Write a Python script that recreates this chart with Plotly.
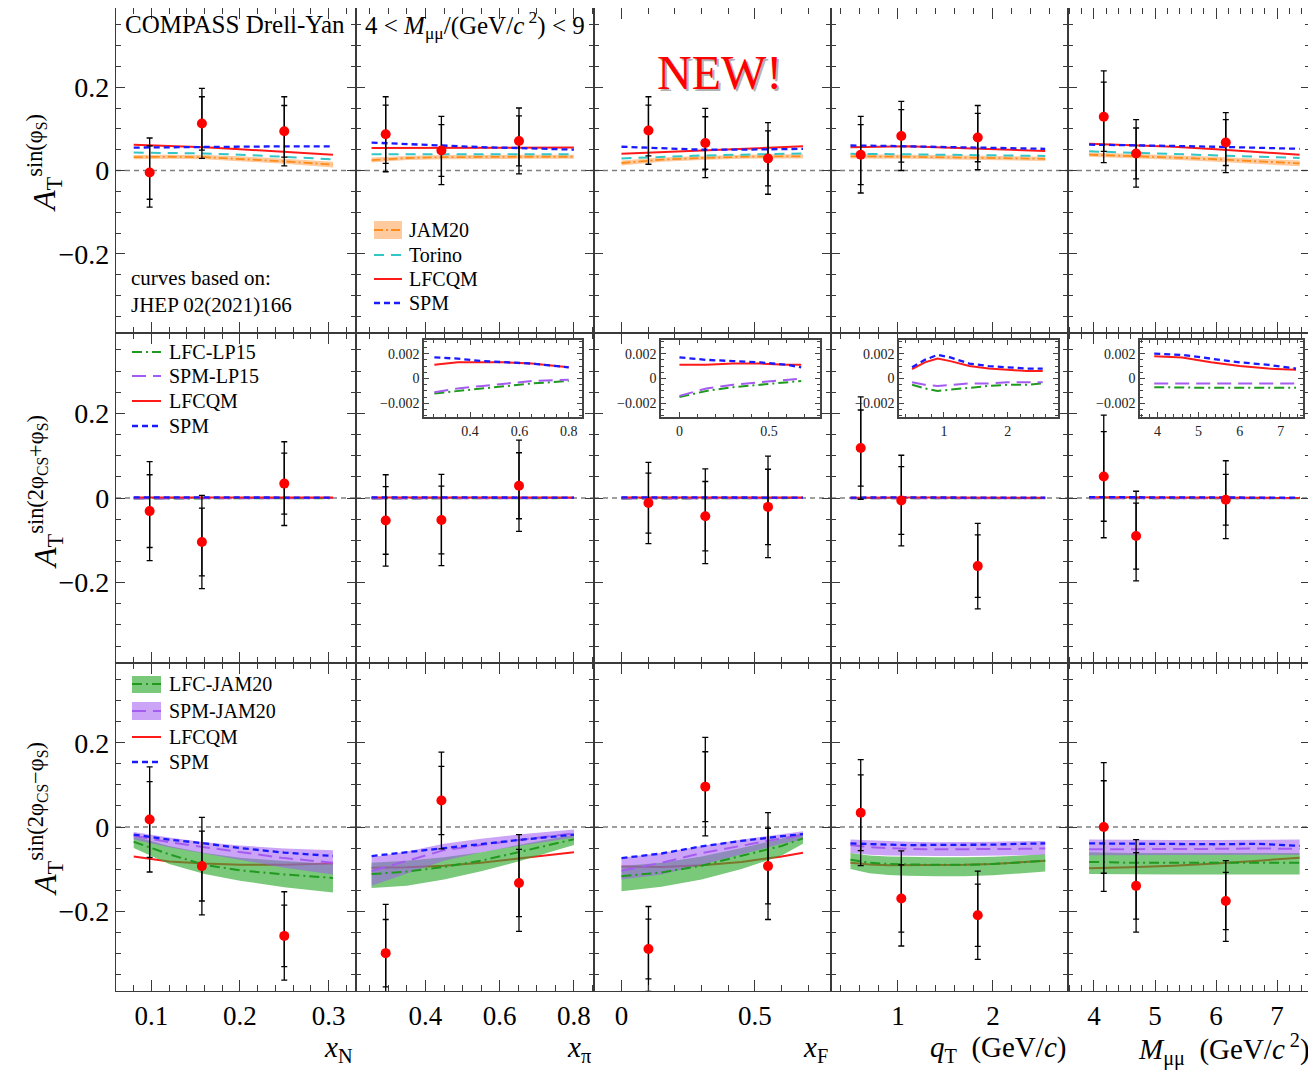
import plotly.graph_objects as go

# ---------------- theory-curve x grids (per column variable) ----------------
XN_GRID = [0.08, 0.12, 0.16, 0.20, 0.25, 0.305]
XPI_GRID = [0.255, 0.35, 0.45, 0.55, 0.65, 0.80]
XF_GRID = [0.0, 0.15, 0.30, 0.45, 0.60, 0.68]
QT_GRID = [0.5, 0.7, 0.9, 1.1, 1.4, 1.7, 2.0, 2.3, 2.55]
M_GRID = [3.92, 4.6, 5.3, 6.0, 6.7, 7.37]

# ---------------- measured point positions ----------------
XN_PTS = [0.098, 0.157, 0.250]
XPI_PTS = [0.293, 0.443, 0.652]
XF_PTS = [0.101, 0.314, 0.549]
QT_PTS = [0.608, 1.035, 1.84]
M_PTS = [4.16, 4.69, 6.16]

# ---------------- row 1 : A_T^{sin(phi_S)} ----------------
SIV_VAL = {"xN": [-0.005, 0.113, 0.094], "xpi": [0.087, 0.048, 0.071], "xF": [0.096, 0.066, 0.029],
           "qT": [0.038, 0.083, 0.079], "M": [0.129, 0.041, 0.067]}
SIV_STAT = {"xN": [0.064, 0.064, 0.062], "xpi": [0.070, 0.062, 0.060], "xF": [0.061, 0.063, 0.066],
            "qT": [0.072, 0.063, 0.058], "M": [0.083, 0.061, 0.055]}
SIV_TOT = {"xN": [0.083, 0.084, 0.083], "xpi": [0.090, 0.082, 0.079], "xF": [0.081, 0.083, 0.086],
           "qT": [0.092, 0.083, 0.077], "M": [0.110, 0.081, 0.072]}
SIV_LFCQM = {"xN": [0.062, 0.059, 0.056, 0.051, 0.045, 0.038],
             "xpi": [0.054, 0.054, 0.054, 0.055, 0.055, 0.055],
             "xF": [0.040, 0.044, 0.048, 0.052, 0.056, 0.058],
             "qT": [0.056, 0.057, 0.058, 0.058, 0.056, 0.054, 0.051, 0.049, 0.047],
             "M": [0.064, 0.061, 0.057, 0.051, 0.045, 0.038]}
SIV_SPM = {"xN": [0.055, 0.056, 0.057, 0.058, 0.058, 0.058],
           "xpi": [0.067, 0.063, 0.059, 0.056, 0.054, 0.050],
           "xF": [0.057, 0.053, 0.050, 0.050, 0.051, 0.052],
           "qT": [0.060, 0.060, 0.059, 0.058, 0.057, 0.056, 0.054, 0.053, 0.052],
           "M": [0.062, 0.061, 0.059, 0.057, 0.055, 0.052]}
SIV_TORINO = {"xN": [0.043, 0.042, 0.041, 0.038, 0.033, 0.027],
              "xpi": [0.039, 0.039, 0.039, 0.039, 0.039, 0.039],
              "xF": [0.029, 0.033, 0.036, 0.038, 0.040, 0.041],
              "qT": [0.040, 0.040, 0.040, 0.039, 0.038, 0.037, 0.036, 0.035, 0.035],
              "M": [0.046, 0.043, 0.040, 0.037, 0.034, 0.030]}
SIV_JAM20 = {"xN": [0.032, 0.033, 0.032, 0.028, 0.022, 0.014],
             "xpi": [0.025, 0.030, 0.032, 0.033, 0.033, 0.033],
             "xF": [0.018, 0.026, 0.030, 0.033, 0.034, 0.034],
             "qT": [0.034, 0.034, 0.034, 0.033, 0.032, 0.031, 0.030, 0.029, 0.028],
             "M": [0.038, 0.035, 0.031, 0.027, 0.022, 0.017]}
SIV_JAM20_ERR = {"xN": [0.005, 0.005, 0.005, 0.006, 0.006, 0.007],
                 "xpi": [0.006, 0.005, 0.005, 0.005, 0.005, 0.005],
                 "xF": [0.006, 0.005, 0.005, 0.005, 0.005, 0.005],
                 "qT": [0.005, 0.005, 0.005, 0.005, 0.005, 0.005, 0.005, 0.005, 0.005],
                 "M": [0.005, 0.005, 0.005, 0.006, 0.006, 0.007]}

# ---------------- row 2 : A_T^{sin(2phi_CS+phi_S)} ----------------
PRETZ_VAL = {"xN": [-0.031, -0.104, 0.034], "xpi": [-0.053, -0.052, 0.029], "xF": [-0.012, -0.043, -0.021],
             "qT": [0.118, -0.006, -0.161], "M": [0.051, -0.090, -0.004]}
PRETZ_STAT = {"xN": [0.086, 0.080, 0.072], "xpi": [0.080, 0.080, 0.078], "xF": [0.071, 0.082, 0.089],
              "qT": [0.090, 0.080, 0.074], "M": [0.106, 0.078, 0.060]}
PRETZ_TOT = {"xN": [0.117, 0.110, 0.099], "xpi": [0.108, 0.108, 0.108], "xF": [0.096, 0.112, 0.120],
             "qT": [0.121, 0.107, 0.101], "M": [0.145, 0.106, 0.092]}
PRETZ_LFCQM = {"xN": [0.0011, 0.0012, 0.0012, 0.0012, 0.0011, 0.0010],
               "xpi": [0.0011, 0.0013, 0.0013, 0.0013, 0.0012, 0.0009],
               "xF": [0.0011, 0.0011, 0.0012, 0.0012, 0.0011, 0.0011],
               "qT": [0.00075, 0.0013, 0.0016, 0.0014, 0.0010, 0.0008, 0.0007, 0.0006, 0.0006],
               "M": [0.0018, 0.0017, 0.0013, 0.0010, 0.0008, 0.0007]}
PRETZ_SPM = {"xN": [0.0017, 0.0016, 0.0015, 0.0013, 0.0011, 0.0009],
             "xpi": [0.0017, 0.0016, 0.0014, 0.0013, 0.0012, 0.0009],
             "xF": [0.0017, 0.0015, 0.0014, 0.0013, 0.0011, 0.0009],
             "qT": [0.0009, 0.0015, 0.0019, 0.0017, 0.0012, 0.0010, 0.0009, 0.0008, 0.0008],
             "M": [0.0020, 0.0019, 0.0016, 0.0013, 0.0011, 0.0008]}
PRETZ_SPM_LP15 = {"xN": [-0.0011, -0.0009, -0.0007, -0.0005, -0.0003, -0.0002],
                  "xpi": [-0.0011, -0.0008, -0.0006, -0.0004, -0.0002, -0.0001],
                  "xF": [-0.0014, -0.0008, -0.0005, -0.0003, -0.0001, 0.0],
                  "qT": [-0.0003, -0.0005, -0.0006, -0.0005, -0.0004, -0.0004, -0.0003, -0.0003, -0.0003],
                  "M": [-0.0004, -0.0004, -0.0004, -0.0004, -0.0004, -0.0004]}
PRETZ_LFC_LP15 = {"xN": [-0.0012, -0.0010, -0.0008, -0.0006, -0.0004, -0.0003],
                  "xpi": [-0.0012, -0.0010, -0.0008, -0.0006, -0.0004, -0.0002],
                  "xF": [-0.0015, -0.0010, -0.0007, -0.0005, -0.0003, -0.0002],
                  "qT": [-0.0005, -0.0008, -0.0010, -0.0009, -0.0007, -0.0006, -0.0005, -0.0005, -0.0004],
                  "M": [-0.0007, -0.00075, -0.00075, -0.00075, -0.00075, -0.00075]}

# ---------------- row 3 : A_T^{sin(2phi_CS-phi_S)} ----------------
TRANS_VAL = {"xN": [0.018, -0.093, -0.259], "xpi": [-0.300, 0.063, -0.133], "xF": [-0.290, 0.096, -0.093],
             "qT": [0.034, -0.170, -0.210], "M": [0.000, -0.140, -0.176]}
TRANS_STAT = {"xN": [0.090, 0.083, 0.073], "xpi": [0.080, 0.081, 0.080], "xF": [0.071, 0.083, 0.090],
              "qT": [0.090, 0.080, 0.074], "M": [0.110, 0.079, 0.068]}
TRANS_TOT = {"xN": [0.125, 0.116, 0.105], "xpi": [0.116, 0.115, 0.115], "xF": [0.101, 0.117, 0.127],
             "qT": [0.126, 0.113, 0.105], "M": [0.153, 0.110, 0.096]}
TRANS_LFC_JAM20 = {"xN": [-0.035, -0.065, -0.090, -0.103, -0.113, -0.121],
                   "xpi": [-0.112, -0.106, -0.095, -0.080, -0.060, -0.029],
                   "xF": [-0.117, -0.108, -0.092, -0.068, -0.045, -0.027],
                   "qT": [-0.078, -0.085, -0.088, -0.089, -0.090, -0.090, -0.088, -0.084, -0.080],
                   "M": [-0.083, -0.085, -0.085, -0.085, -0.085, -0.085]}
TRANS_LFC_JAM20_LO = {"xN": [-0.050, -0.088, -0.112, -0.128, -0.143, -0.156],
                      "xpi": [-0.145, -0.140, -0.125, -0.105, -0.082, -0.043],
                      "xF": [-0.153, -0.142, -0.125, -0.100, -0.068, -0.040],
                      "qT": [-0.100, -0.110, -0.114, -0.116, -0.117, -0.117, -0.115, -0.110, -0.106],
                      "M": [-0.112, -0.113, -0.113, -0.113, -0.113, -0.113]}
TRANS_LFC_JAM20_HI = {"xN": [-0.022, -0.045, -0.062, -0.073, -0.081, -0.088],
                      "xpi": [-0.085, -0.080, -0.072, -0.060, -0.043, -0.018],
                      "xF": [-0.093, -0.085, -0.070, -0.050, -0.028, -0.013],
                      "qT": [-0.062, -0.068, -0.070, -0.071, -0.072, -0.072, -0.071, -0.068, -0.065],
                      "M": [-0.060, -0.062, -0.062, -0.062, -0.062, -0.062]}
TRANS_SPM_JAM20 = {"xN": [-0.021, -0.036, -0.048, -0.060, -0.074, -0.085],
                   "xpi": [-0.105, -0.080, -0.055, -0.043, -0.031, -0.015],
                   "xF": [-0.104, -0.085, -0.062, -0.044, -0.027, -0.019],
                   "qT": [-0.043, -0.048, -0.050, -0.052, -0.053, -0.053, -0.053, -0.052, -0.051],
                   "M": [-0.053, -0.053, -0.052, -0.052, -0.051, -0.052]}
TRANS_SPM_JAM20_LO = {"xN": [-0.030, -0.048, -0.063, -0.078, -0.097, -0.113],
                      "xpi": [-0.140, -0.110, -0.080, -0.060, -0.045, -0.025],
                      "xF": [-0.125, -0.113, -0.090, -0.065, -0.040, -0.030],
                      "qT": [-0.062, -0.066, -0.068, -0.069, -0.069, -0.069, -0.068, -0.067, -0.066],
                      "M": [-0.067, -0.067, -0.066, -0.066, -0.066, -0.066]}
TRANS_SPM_JAM20_HI = {"xN": [-0.012, -0.025, -0.036, -0.044, -0.051, -0.055],
                      "xpi": [-0.072, -0.058, -0.040, -0.028, -0.018, -0.006],
                      "xF": [-0.073, -0.062, -0.045, -0.030, -0.017, -0.010],
                      "qT": [-0.030, -0.032, -0.034, -0.035, -0.036, -0.036, -0.035, -0.034, -0.033],
                      "M": [-0.030, -0.031, -0.031, -0.031, -0.030, -0.030]}
TRANS_LFCQM = {"xN": [-0.070, -0.082, -0.087, -0.090, -0.090, -0.087],
               "xpi": [-0.097, -0.096, -0.092, -0.085, -0.075, -0.060],
               "xF": [-0.094, -0.095, -0.091, -0.083, -0.070, -0.061],
               "qT": [-0.085, -0.089, -0.091, -0.091, -0.091, -0.090, -0.088, -0.083, -0.080],
               "M": [-0.098, -0.096, -0.092, -0.087, -0.080, -0.073]}
TRANS_SPM = {"xN": [-0.018, -0.030, -0.039, -0.050, -0.061, -0.069],
             "xpi": [-0.069, -0.060, -0.049, -0.040, -0.031, -0.018],
             "xF": [-0.074, -0.063, -0.046, -0.033, -0.022, -0.017],
             "qT": [-0.039, -0.041, -0.042, -0.043, -0.043, -0.043, -0.042, -0.040, -0.039],
             "M": [-0.039, -0.040, -0.040, -0.041, -0.040, -0.045]}

# ---------------- layout constants ----------------
COLS = ["xN", "xpi", "xF", "qT", "M"]
GRID = {"xN": XN_GRID, "xpi": XPI_GRID, "xF": XF_GRID, "qT": QT_GRID, "M": M_GRID}
PTS = {"xN": XN_PTS, "xpi": XPI_PTS, "xF": XF_PTS, "qT": QT_PTS, "M": M_PTS}
X_RANGE = {"xN": [0.06, 0.331], "xpi": [0.213, 0.854], "xF": [-0.103, 0.785],
           "qT": [0.295, 2.79], "M": [3.574, 7.54]}
X_DTICK = {"xN": 0.1, "xpi": 0.2, "xF": 0.5, "qT": 1, "M": 1}
X_MINOR = {"xN": 0.02, "xpi": 0.05, "xF": 0.1, "qT": 0.2, "M": 0.2}

OFF = 8  # default page body margin
W, H = 1308, 1066
ML, MR, MT, MB = 108, 6, 0, 83
PW, PH = W - ML - MR, H - MT - MB
COL_PX = [116, 356, 594, 831, 1068, 1310]
ROW_PX = [8, 333, 663, 991]
INSET_X_PX = {1: (424, 582), 2: (661, 820), 3: (899, 1058), 4: (1140, 1303)}
INSET_Y_PX = (340, 417)
SERIF = "Liberation Serif"
FRAME = "#3a3a3a"


def px2x(p):
    return (p - OFF - ML) / PW


def px2y(p):
    return 1 - (p - OFF - MT) / PH


def fx(p):
    return min(1.0, max(0.0, px2x(p)))


def fy(p):
    return min(1.0, max(0.0, px2y(p)))


def aid(k):
    return "" if k == 1 else str(k)


ST = {
    "LFCQM": dict(color="#ff1a1a", dash="solid", width=2),
    "SPM": dict(color="#1a1aff", dash="6px,4px", width=2.3),
    "Torino": dict(color="#33c6c6", dash="10px,7px", width=2),
    "JAM20": dict(color="#ff8c1a", dash="9px,3px,2px,3px", width=1.8),
    "LFC": dict(color="#1f9a1f", dash="10px,4px,2px,4px", width=2),
    "SPMLP": dict(color="#a45cf0", dash="14px,7px", width=2),
}
ORANGE_BAND = "rgba(255,150,60,0.5)"
GREEN_BAND = "rgba(50,170,50,0.65)"
PURPLE_BAND = "rgba(160,90,240,0.55)"

fig = go.Figure()
lay = {}


def line(k, xs, ys, style):
    fig.add_trace(go.Scatter(x=xs, y=ys, mode="lines", line=style, showlegend=False,
                             hoverinfo="skip", xaxis="x" + aid(k), yaxis="y" + aid(k)))


def band(k, xs, lo, hi, color):
    fig.add_trace(go.Scatter(x=xs, y=hi, mode="lines", line=dict(width=0, color=color),
                             showlegend=False, hoverinfo="skip", xaxis="x" + aid(k), yaxis="y" + aid(k)))
    fig.add_trace(go.Scatter(x=xs, y=lo, mode="lines", line=dict(width=0, color=color), fill="tonexty",
                             fillcolor=color, showlegend=False, hoverinfo="skip",
                             xaxis="x" + aid(k), yaxis="y" + aid(k)))


def points(k, xs, ys, stat, tot):
    fig.add_trace(go.Scatter(x=xs, y=ys, mode="markers", marker=dict(size=1, color="rgba(0,0,0,0)"),
                             error_y=dict(type="data", array=tot, color="black", thickness=1.3, width=3),
                             showlegend=False, xaxis="x" + aid(k), yaxis="y" + aid(k)))
    fig.add_trace(go.Scatter(x=xs, y=ys, mode="markers", marker=dict(size=10, color="#ff0000"),
                             error_y=dict(type="data", array=stat, color="black", thickness=1.3, width=3),
                             showlegend=False, xaxis="x" + aid(k), yaxis="y" + aid(k)))


shapes = []
for r in range(3):
    for c in range(5):
        k = r * 5 + c + 1
        key = COLS[c]
        lay["xaxis" + aid(k)] = dict(
            domain=[fx(COL_PX[c]), fx(COL_PX[c + 1])], anchor="y" + aid(k), range=X_RANGE[key],
            tick0=0, dtick=X_DTICK[key], ticks="inside", ticklen=11, tickwidth=1.1, tickcolor=FRAME,
            minor=dict(tick0=0, dtick=X_MINOR[key], ticks="inside", ticklen=6, tickwidth=1, tickcolor=FRAME),
            showline=True, linecolor=FRAME, linewidth=1.2, mirror="ticks", showgrid=False, zeroline=False,
            showticklabels=(r == 2), tickfont=dict(family=SERIF, size=27, color="black"))
        lay["yaxis" + aid(k)] = dict(
            domain=[fy(ROW_PX[r + 1]), fy(ROW_PX[r])], anchor="x" + aid(k), range=[-0.39, 0.39],
            tick0=0, dtick=0.2, ticks="inside", ticklen=9, tickwidth=1.1, tickcolor=FRAME,
            minor=dict(tick0=0, dtick=0.05, ticks="inside", ticklen=5, tickwidth=1, tickcolor=FRAME),
            showline=True, linecolor=FRAME, linewidth=1.2, mirror="ticks", showgrid=False, zeroline=False,
            showticklabels=(c == 0), tickfont=dict(family=SERIF, size=28, color="black"))
        shapes.append(dict(type="line", xref="x" + aid(k) + " domain", yref="y" + aid(k), x0=0, x1=1,
                           y0=0, y1=0, layer="below", line=dict(color="#808080", width=1.5, dash="5px,4px")))
        g = GRID[key]
        if r == 0:
            lo = [v - e for v, e in zip(SIV_JAM20[key], SIV_JAM20_ERR[key])]
            hi = [v + e for v, e in zip(SIV_JAM20[key], SIV_JAM20_ERR[key])]
            band(k, g, lo, hi, ORANGE_BAND)
            line(k, g, SIV_JAM20[key], ST["JAM20"])
            line(k, g, SIV_TORINO[key], ST["Torino"])
            line(k, g, SIV_LFCQM[key], ST["LFCQM"])
            line(k, g, SIV_SPM[key], ST["SPM"])
            points(k, PTS[key], SIV_VAL[key], SIV_STAT[key], SIV_TOT[key])
        elif r == 1:
            line(k, g, PRETZ_LFC_LP15[key], ST["LFC"])
            line(k, g, PRETZ_SPM_LP15[key], ST["SPMLP"])
            line(k, g, PRETZ_LFCQM[key], ST["LFCQM"])
            line(k, g, PRETZ_SPM[key], ST["SPM"])
            points(k, PTS[key], PRETZ_VAL[key], PRETZ_STAT[key], PRETZ_TOT[key])
        else:
            line(k, g, TRANS_LFCQM[key], ST["LFCQM"])
            band(k, g, TRANS_LFC_JAM20_LO[key], TRANS_LFC_JAM20_HI[key], GREEN_BAND)
            band(k, g, TRANS_SPM_JAM20_LO[key], TRANS_SPM_JAM20_HI[key], PURPLE_BAND)
            line(k, g, TRANS_LFC_JAM20[key], ST["LFC"])
            line(k, g, TRANS_SPM_JAM20[key], ST["SPMLP"])
            line(k, g, TRANS_SPM[key], ST["SPM"])
            points(k, PTS[key], TRANS_VAL[key], TRANS_STAT[key], TRANS_TOT[key])

# ---------------- insets in row 2 (columns 2..5) ----------------
for i, c in enumerate([1, 2, 3, 4]):
    k = 16 + i
    key = COLS[c]
    x0p, x1p = INSET_X_PX[c]
    lay["xaxis" + aid(k)] = dict(
        domain=[fx(x0p), fx(x1p)], anchor="y" + aid(k), range=X_RANGE[key], tick0=0, dtick=X_DTICK[key],
        ticks="inside", ticklen=5, tickwidth=1, tickcolor="#444",
        minor=dict(tick0=0, dtick=X_MINOR[key], ticks="inside", ticklen=3, tickwidth=1, tickcolor="#444"),
        showline=True, linecolor="#444", linewidth=1.5, mirror="ticks", showgrid=False, zeroline=False,
        tickfont=dict(family=SERIF, size=14, color="#222"))
    lay["yaxis" + aid(k)] = dict(
        domain=[fy(INSET_Y_PX[1]), fy(INSET_Y_PX[0])], anchor="x" + aid(k), range=[-0.0031, 0.0031],
        tick0=0, dtick=0.002, ticks="inside", ticklen=5, tickwidth=1, tickcolor="#444",
        minor=dict(tick0=0, dtick=0.0005, ticks="inside", ticklen=3, tickwidth=1, tickcolor="#444"),
        showline=True, linecolor="#444", linewidth=1.5, mirror="ticks", showgrid=False, zeroline=False,
        tickfont=dict(family=SERIF, size=14, color="#222"))
    shapes.append(dict(type="line", xref="x" + aid(k) + " domain", yref="y" + aid(k), x0=0, x1=1,
                       y0=0, y1=0, layer="below", line=dict(color="#808080", width=1.3, dash="5px,4px")))
    g = GRID[key]
    line(k, g, PRETZ_LFC_LP15[key], dict(ST["LFC"], width=2))
    line(k, g, PRETZ_SPM_LP15[key], dict(ST["SPMLP"], width=2))
    line(k, g, PRETZ_LFCQM[key], dict(ST["LFCQM"], width=2))
    line(k, g, PRETZ_SPM[key], dict(ST["SPM"], width=2.3))

# ---------------- hand-made legends and texts ----------------
ann = []


def leg_line(x0, x1, y, style):
    shapes.append(dict(type="line", xref="paper", yref="paper", x0=fx(x0), x1=fx(x1), y0=fy(y), y1=fy(y),
                       line=dict(color=style["color"], width=style["width"], dash=style["dash"])))


def leg_rect(x0, x1, y0, y1, color):
    shapes.append(dict(type="rect", xref="paper", yref="paper", x0=fx(x0), x1=fx(x1), y0=fy(y1), y1=fy(y0),
                       fillcolor=color, line=dict(width=0)))


def text(x, y, t, size=20, anchor="left", color="black", **kw):
    ann.append(dict(x=px2x(x), y=px2y(y), xref="paper", yref="paper", text=t, showarrow=False,
                    xanchor=anchor, yanchor="middle", font=dict(family=SERIF, size=size, color=color), **kw))


# row 1 legend (column 2)
leg_rect(374, 402, 221, 239, ORANGE_BAND)
leg_line(374, 402, 230, ST["JAM20"])
leg_line(374, 402, 255, ST["Torino"])
leg_line(374, 402, 279, ST["LFCQM"])
leg_line(374, 402, 303, ST["SPM"])
for yy, t in [(230, "JAM20"), (255, "Torino"), (279, "LFCQM"), (303, "SPM")]:
    text(407, yy, t)

# row 2 legend (column 1)
leg_line(132, 161, 352, ST["LFC"])
leg_line(132, 161, 376, ST["SPMLP"])
leg_line(132, 161, 401, ST["LFCQM"])
leg_line(132, 161, 426, ST["SPM"])
for yy, t in [(352, "LFC-LP15"), (376, "SPM-LP15"), (401, "LFCQM"), (426, "SPM")]:
    text(167, yy, t)

# row 3 legend (column 1)
leg_rect(132, 161, 676, 693, GREEN_BAND)
leg_line(132, 161, 684, ST["LFC"])
leg_rect(132, 161, 702, 720, PURPLE_BAND)
leg_line(132, 161, 711, ST["SPMLP"])
leg_line(132, 161, 737, ST["LFCQM"])
leg_line(132, 161, 762, ST["SPM"])
for yy, t in [(684, "LFC-JAM20"), (711, "SPM-JAM20"), (737, "LFCQM"), (762, "SPM")]:
    text(167, yy, t)

text(123, 25, "COMPASS Drell-Yan", size=25)
text(363, 25, "4 &lt; <i>M</i><sub>μμ</sub>/(GeV/<i>c</i><sup> 2</sup>) &lt; 9", size=25)
text(129, 291, "curves based on:<br>JHEP 02(2021)166", size=21, align="left")
text(719, 73, "NEW!", size=48, anchor="center", color="rgba(110,110,110,0.55)", xshift=2, yshift=-2)
text(719, 73, "NEW!", size=48, anchor="center", color="#ff0000")

# y-axis titles
text(45, 163, "<i>A</i><sub>T</sub><sup>sin(φ<sub>S</sub>)</sup>", size=32, anchor="center", textangle=-90)
text(45, 492, "<i>A</i><sub>T</sub><sup>sin(2φ<sub>CS</sub>+φ<sub>S</sub>)</sup>", size=32, anchor="center",
     textangle=-90)
text(45, 819, "<i>A</i><sub>T</sub><sup>sin(2φ<sub>CS</sub>−φ<sub>S</sub>)</sup>", size=32, anchor="center",
     textangle=-90)

# x-axis titles
for xr, t in [(355, "<i>x</i><sub>N</sub>"), (593, "<i>x</i><sub>π</sub>"), (830, "<i>x</i><sub>F</sub>"),
              (1068, "<i>q</i><sub>T</sub>  (GeV/<i>c</i>)"),
              (1312, "<i>M</i><sub>μμ</sub>  (GeV/<i>c</i><sup> 2</sup>)")]:
    ann.append(dict(x=px2x(xr), y=px2y(1049), xref="paper", yref="paper", text=t,
                    showarrow=False, xanchor="right", yanchor="middle",
                    font=dict(family=SERIF, size=29, color="black")))

fig.update_layout(width=W, height=H, margin=dict(l=ML, r=MR, t=MT, b=MB), plot_bgcolor="white",
                  paper_bgcolor="white", showlegend=False, shapes=shapes, annotations=ann, **lay)
fig.write_html("out.html")
